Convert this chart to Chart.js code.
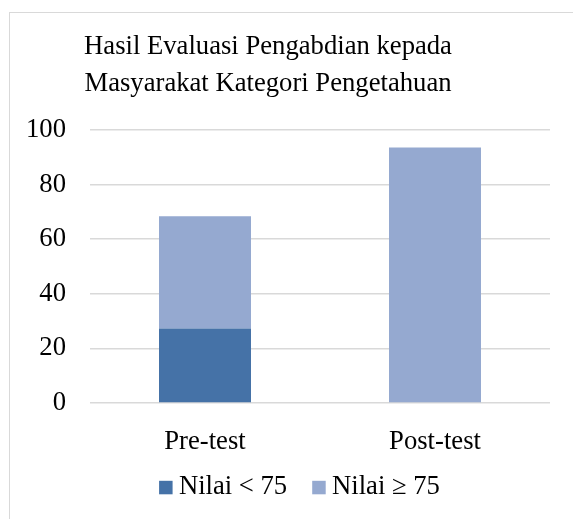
<!DOCTYPE html>
<html><head><meta charset="utf-8">
<script src="https://cdn.jsdelivr.net/npm/chart.js@4.4.0/dist/chart.umd.min.js"></script>
<style>
html,body{margin:0;padding:0;background:#fff;overflow:hidden;width:573px;height:519px;}
#frame{position:absolute;left:9px;top:11.5px;width:1000px;height:1000px;border:1.5px solid #d9d9d9;box-sizing:border-box;}
#wrap{position:absolute;left:-14px;top:0;width:587px;height:519px;}
</style></head><body>
<div id="frame"></div>
<div id="wrap"><canvas id="c" width="587" height="519"></canvas></div>
<script>
const categories = ['Pre-test', 'Post-test'];
const seriesNames = ['Nilai < 75', 'Nilai \u2265 75'];
const below75 = [27.3, 0];
const atLeast75 = [41.1, 93.6];
const yTickValues = [0, 20, 40, 60, 80, 100];
const titleLines = ['Hasil Evaluasi Pengabdian kepada', 'Masyarakat Kategori Pengetahuan'];
const seriesColors = ['#4572A7', '#95A9D0'];

const FONT = '"Liberation Serif", "Times New Roman", serif';
const FS = 26.67;

const legendPlugin = {
  id: 'customLegend',
  afterDraw(chart, args, opts) {
    const ctx = chart.ctx;
    ctx.save();
    ctx.font = FS + 'px ' + FONT;
    const items = chart.data.datasets.map(d => ({text: d.label, color: d.backgroundColor, w: ctx.measureText(d.label).width}));
    const total = items.reduce((s, it) => s + opts.box + opts.boxGap + it.w, 0) + opts.itemGap * (items.length - 1);
    let x = opts.centerX - total / 2;
    items.forEach(it => {
      ctx.fillStyle = it.color;
      ctx.fillRect(x, opts.baseline - opts.box, opts.box, opts.box);
      x += opts.box + opts.boxGap;
      ctx.fillStyle = '#000';
      ctx.textBaseline = 'alphabetic';
      ctx.textAlign = 'left';
      ctx.fillText(it.text, x, opts.baseline);
      x += it.w + opts.itemGap;
    });
    ctx.restore();
  }
};

new Chart(document.getElementById('c'), {
  type: 'bar',
  data: {
    labels: categories,
    datasets: [
      {label: seriesNames[0], data: below75, backgroundColor: seriesColors[0], stack: 's', borderWidth: 0, barPercentage: 1, categoryPercentage: 0.4},
      {label: seriesNames[1], data: atLeast75, backgroundColor: seriesColors[1], stack: 's', borderWidth: 0, barPercentage: 1, categoryPercentage: 0.4}
    ]
  },
  options: {
    responsive: false,
    devicePixelRatio: 1,
    animation: false,
    layout: {padding: {left: 0, right: 23, top: 0, bottom: 0}},
    plugins: {
      legend: {display: false},
      tooltip: {enabled: false},
      title: {
        display: true,
        text: titleLines,
        color: '#000',
        font: {family: FONT, size: FS, weight: 'normal', lineHeight: 1.375},
        padding: {top: 29, bottom: 27.7}
      },
      customLegend: {centerX: 313.5, baseline: 494.3, box: 13.5, boxGap: 6.3, itemGap: 25}
    },
    scales: {
      x: {
        stacked: true,
        grid: {display: false},
        border: {display: false},
        ticks: {color: '#000', font: {family: FONT, size: FS}, padding: 15},
        afterFit(scale) { scale.height = 116; }
      },
      y: {
        stacked: true,
        min: 0,
        max: 100,
        afterBuildTicks(scale) { scale.ticks = yTickValues.map(v => ({value: v})); },
        grid: {color: '#d9d9d9', lineWidth: 1.5, drawTicks: false},
        border: {display: false},
        ticks: {color: '#000', font: {family: FONT, size: FS}, padding: 24},
        afterFit(scale) { scale.width = 104; }
      }
    }
  },
  plugins: [legendPlugin]
});
</script>
</body></html>
